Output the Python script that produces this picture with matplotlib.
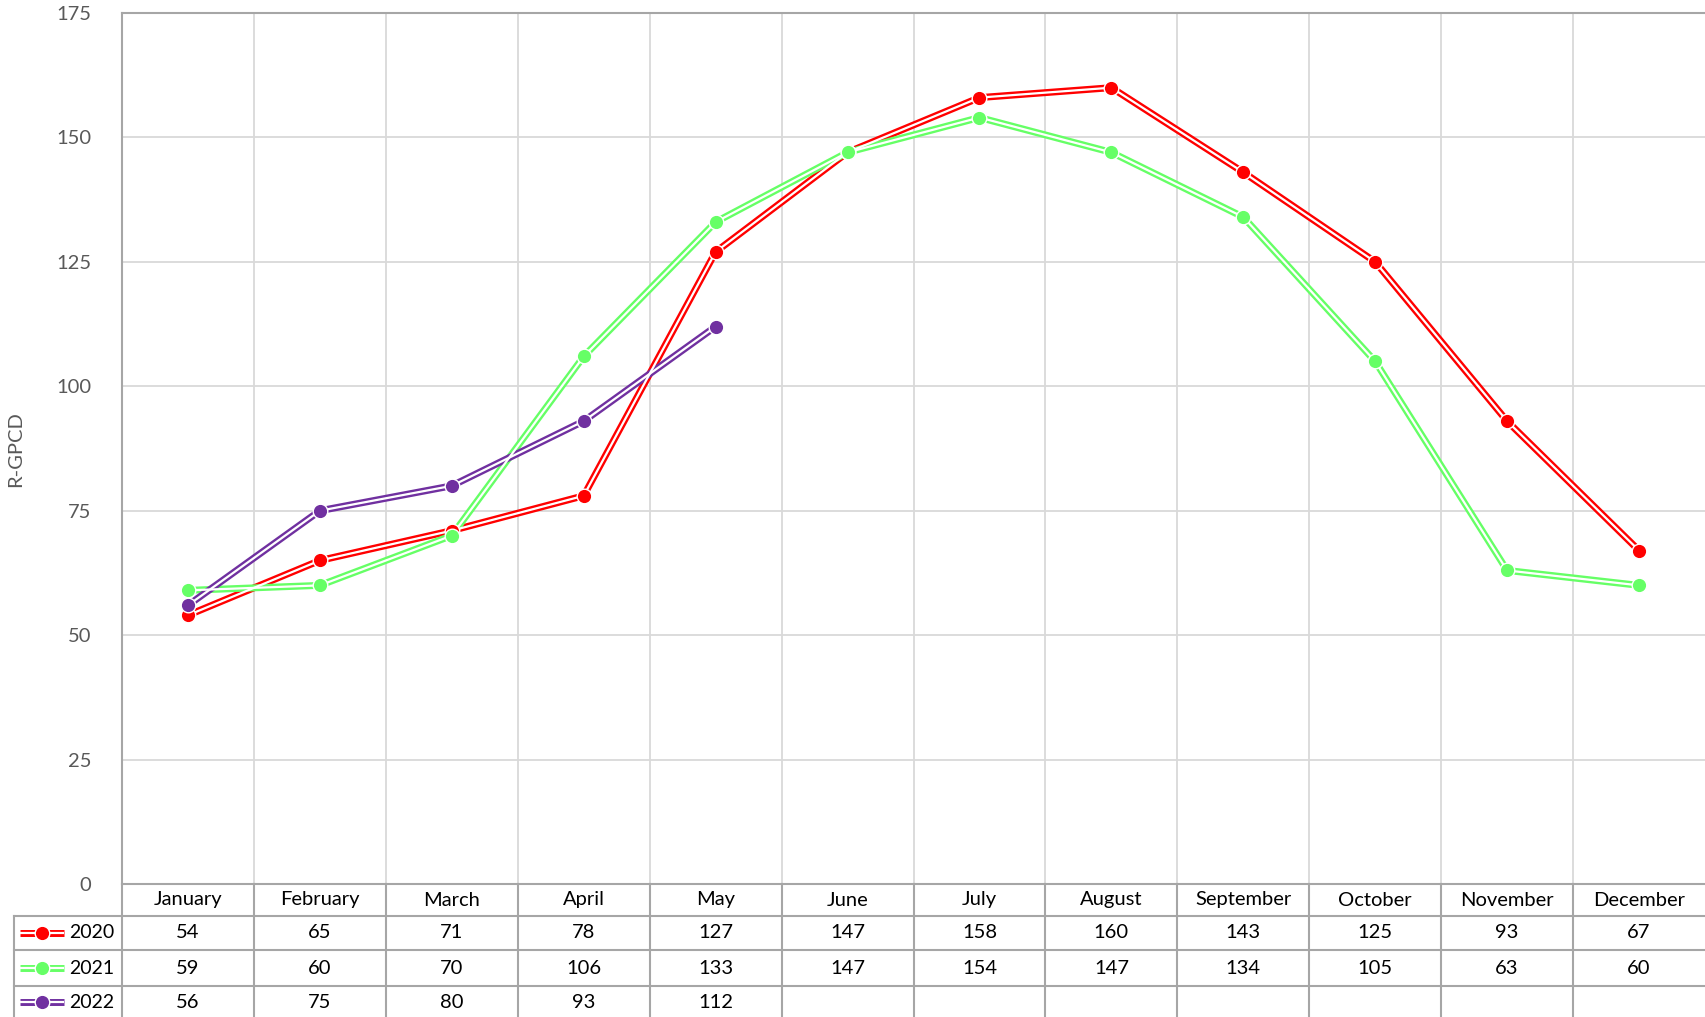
"""Monthly residential gallons per capita per day, 2020-2022, with data table."""
import matplotlib.pyplot as plt
import matplotlib.transforms as mtransforms
from matplotlib.lines import Line2D

plt.rcParams['font.family'] = ['Lato', 'DejaVu Sans']

months = ["January", "February", "March", "April", "May", "June",
          "July", "August", "September", "October", "November", "December"]
years = ["2020", "2021", "2022"]
r_gpcd_2020 = [54, 65, 71, 78, 127, 147, 158, 160, 143, 125, 93, 67]
r_gpcd_2021 = [59, 60, 70, 106, 133, 147, 154, 147, 134, 105, 63, 60]
r_gpcd_2022 = [56, 75, 80, 93, 112]
y_ticks = [0, 25, 50, 75, 100, 125, 150, 175]

colors = ["#ff0000", "#66ff66", "#7030a0"]
series = [r_gpcd_2020, r_gpcd_2021, r_gpcd_2022]

W, H = 1705, 1017
fig = plt.figure(figsize=(W / 100, H / 100), dpi=100)


# pixel layout helpers
def fx(px):
    return px / W


def fy(py):
    return 1 - py / H


left, top, bottom = 122, 13, 884
ax = fig.add_axes([fx(left), fy(bottom), fx(W - left), fy(top) - fy(bottom)])

GRID = "#d9d9d9"
BORDER = "#a6a6a6"
FS = 14.5
LW_OUT, LW_IN, MS = 5.0, 1.6, 10.5

ax.set_xlim(-0.5, len(months) - 0.5)
ax.set_ylim(0, 175)
ax.set_yticks(y_ticks)
ax.set_xticks([])
ax.set_xticks([i + 0.5 for i in range(len(months) - 1)], minor=True)
ax.grid(axis='y', color=GRID, lw=1.3)
ax.grid(axis='x', which='minor', color=GRID, lw=1.3)
ax.tick_params(axis='x', which='both', length=0, labelbottom=False)
ax.tick_params(axis='y', length=0, pad=22, labelsize=FS, labelcolor="#595959")
ax.set_axisbelow(True)
for side in ['left', 'top', 'bottom']:
    ax.spines[side].set_color(BORDER)
    ax.spines[side].set_linewidth(1.5)
ax.spines['right'].set_visible(False)

fig.text(fx(16), fy(449), "R-GPCD", rotation=90, ha='center', va='center',
         fontsize=FS, color="#595959")

# double lines: thick coloured stroke with a thin white stroke on top
for vals, c in zip(series, colors):
    xs = list(range(len(vals)))
    ax.plot(xs, vals, color=c, lw=LW_OUT, solid_capstyle='butt', zorder=3)
    ax.plot(xs, vals, color='white', lw=LW_IN, solid_capstyle='butt', zorder=4)
    ax.plot(xs, vals, ls='none', marker='o', ms=MS, mfc=c, mec='white',
            mew=1.0, zorder=5, clip_on=False)

# data table underneath the axis
tr = mtransforms.blended_transform_factory(ax.transData, fig.transFigure)
row_edges = [884, 916, 950, 986]
row_centers = [900, 933, 968, 1002]

for i, m in enumerate(months):
    ax.text(i, fy(row_centers[0]), m, transform=tr, ha='center', va='center',
            fontsize=FS, color='black', clip_on=False)

for r, (vals, yr, c) in enumerate(zip(series, years, colors)):
    yc = fy(row_centers[r + 1])
    for i, v in enumerate(vals):
        ax.text(i, yc, str(v), transform=tr, ha='center', va='center',
                fontsize=FS, color='black', clip_on=False)
    # legend key in the first column
    for x0, x1 in [(20, 35), (49, 64)]:
        fig.add_artist(Line2D([fx(x0), fx(x1)], [yc, yc], color=c, lw=LW_OUT,
                              solid_capstyle='butt'))
        fig.add_artist(Line2D([fx(x0), fx(x1)], [yc, yc], color='white', lw=LW_IN,
                              solid_capstyle='butt'))
    fig.add_artist(Line2D([fx(42)], [yc], ls='none', marker='o', ms=MS,
                          mfc=c, mec='white', mew=1.0))
    fig.text(fx(69), yc, yr, ha='left', va='center', fontsize=14, color='black')

# table borders
for yb in row_edges[1:]:
    fig.add_artist(Line2D([fx(14), 1], [fy(yb), fy(yb)], color=BORDER, lw=1.5))
fig.add_artist(Line2D([fx(14), fx(14)], [fy(916), 0], color=BORDER, lw=1.5))
for i in range(len(months)):
    ax.plot([i - 0.5, i - 0.5], [fy(884), 0], transform=tr, color=BORDER,
            lw=1.5, clip_on=False)

fig.savefig("out.png", dpi=100)
